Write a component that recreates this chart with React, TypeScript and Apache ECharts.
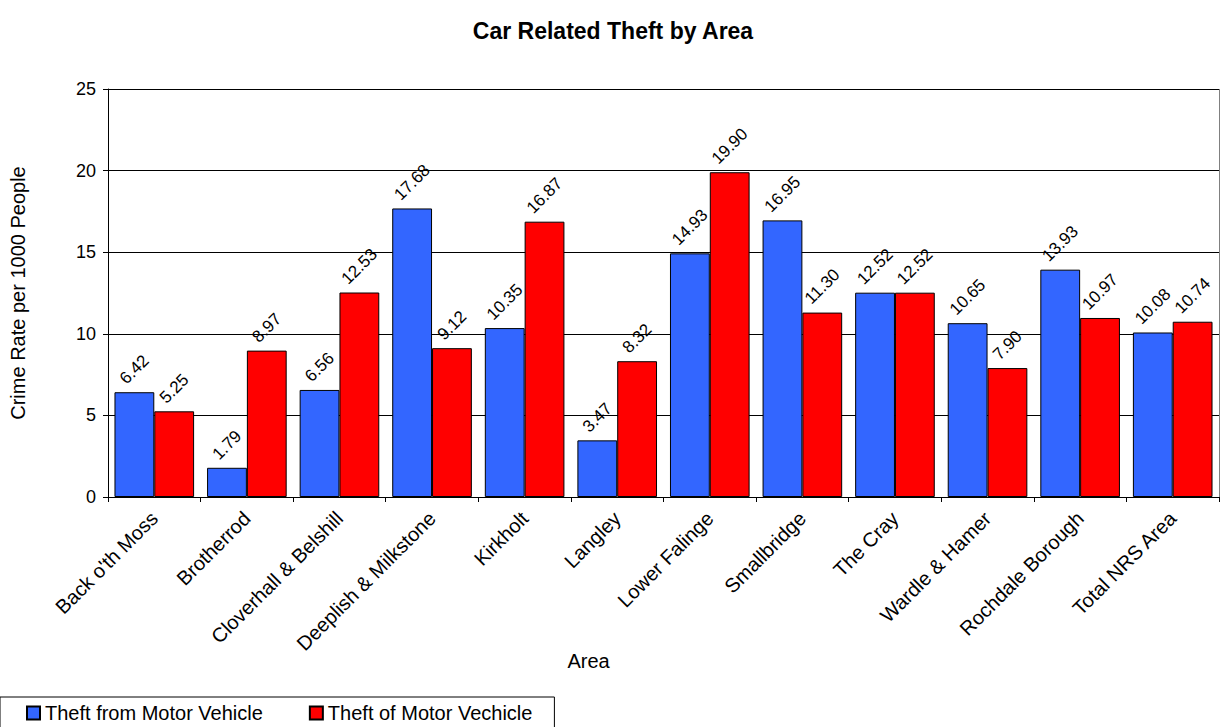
import React, { useEffect, useRef } from "react";
import * as echarts from "echarts";

const categories = [
  "Back o'th Moss",
  "Brotherrod",
  "Cloverhall & Belshill",
  "Deeplish & Milkstone",
  "Kirkholt",
  "Langley",
  "Lower Falinge",
  "Smallbridge",
  "The Cray",
  "Wardle & Hamer",
  "Rochdale Borough",
  "Total NRS Area",
];
const theftFrom = [6.42, 1.79, 6.56, 17.68, 10.35, 3.47, 14.93, 16.95, 12.52, 10.65, 13.93, 10.08];
const theftOf = [5.25, 8.97, 12.53, 9.12, 16.87, 8.32, 19.9, 11.3, 12.52, 7.9, 10.97, 10.74];
const seriesNames = ["Theft from Motor Vehicle", "Theft of Motor Vechicle"];

const FONT = "Liberation Sans, Arial, sans-serif";
const LABEL_SIZE = 17;

// distance so the rotated (45°) label sits just above the bar, centred on it
function labelDistance(v: number) {
  const s = v.toFixed(2);
  const digits = s.replace(".", "").length;
  const w = LABEL_SIZE * (0.556 * digits + 0.278);
  return 5 + (w + LABEL_SIZE) * 0.354;
}

function buildData(values: number[]) {
  return values.map((v) => ({ value: v, label: { distance: labelDistance(v) } }));
}

export default function App() {
  const ref = useRef<HTMLDivElement>(null);
  useEffect(() => {
    if (!ref.current) return;
    const chart = echarts.init(ref.current, null, { renderer: "svg" });
    const label = {
      show: true,
      position: "top" as const,
      rotate: 45,
      align: "center" as const,
      verticalAlign: "middle" as const,
      color: "#000",
      fontFamily: FONT,
      fontSize: LABEL_SIZE,
      formatter: (p: any) => Number(p.value).toFixed(2),
    };
    chart.setOption({
      animation: false,
      backgroundColor: "#fff",
      textStyle: { fontFamily: FONT },
      title: {
        text: "Car Related Theft by Area",
        left: "center",
        top: 14,
        textStyle: { fontFamily: FONT, fontSize: 23, fontWeight: "bold", color: "#000" },
      },
      legend: {
        left: 0,
        top: 697,
        orient: "horizontal",
        itemWidth: 13,
        itemHeight: 13,
        itemGap: 46,
        padding: [6, 22, 12, 26],
        borderColor: "#000",
        borderWidth: 1,
        icon: "rect",
        textStyle: { fontFamily: FONT, fontSize: 20, color: "#000" },
        data: seriesNames,
      },
      grid: { left: 107, right: 7, top: 89, bottom: 230 },
      xAxis: {
        type: "category",
        data: categories,
        name: "Area",
        nameLocation: "middle",
        nameGap: 154,
        nameMoveOverlap: false,
        nameTextStyle: {
          fontFamily: FONT,
          fontSize: 20,
          color: "#000",
          padding: [0, 150, 0, 0],
        },
        axisLine: { lineStyle: { color: "#000" } },
        axisTick: { show: true, length: 5, lineStyle: { color: "#000" } },
        axisLabel: {
          rotate: 45,
          interval: 0,
          fontFamily: FONT,
          fontSize: 20,
          color: "#000",
          margin: 18,
        },
      },
      yAxis: {
        type: "value",
        min: 0,
        max: 25,
        interval: 5,
        name: "Crime Rate per 1000 People",
        nameLocation: "middle",
        nameGap: 80,
        nameMoveOverlap: false,
        nameTextStyle: { fontFamily: FONT, fontSize: 20, color: "#000" },
        axisLine: { show: true, lineStyle: { color: "#000" } },
        axisTick: { show: true, length: 5, lineStyle: { color: "#000" } },
        axisLabel: { fontFamily: FONT, fontSize: 18, color: "#000", margin: 12 },
        splitLine: { show: true, lineStyle: { color: "#000", width: 1 } },
      },
      series: [
        {
          name: seriesNames[0],
          type: "bar",
          data: buildData(theftFrom),
          barWidth: "43%",
          barGap: "0%",
          itemStyle: { color: "#3366FF", borderColor: "#000", borderWidth: 1 },
          label,
        },
        {
          name: seriesNames[1],
          type: "bar",
          data: buildData(theftOf),
          barWidth: "43%",
          barGap: "0%",
          itemStyle: { color: "#FF0000", borderColor: "#000", borderWidth: 1 },
          label,
        },
      ],
      graphic: [
        {
          type: "line",
          shape: { x1: 107, y1: 89.5, x2: 1219, y2: 89.5 },
          style: { stroke: "#808080", lineWidth: 1 },
        },
        {
          type: "line",
          shape: { x1: 1219.5, y1: 89, x2: 1219.5, y2: 497 },
          style: { stroke: "#808080", lineWidth: 1 },
        },
      ],
    });
    return () => chart.dispose();
  }, []);
  return (
    <div
      ref={ref}
      style={{ width: 1226, height: 727, position: "absolute", left: 0, top: 0 }}
    />
  );
}
